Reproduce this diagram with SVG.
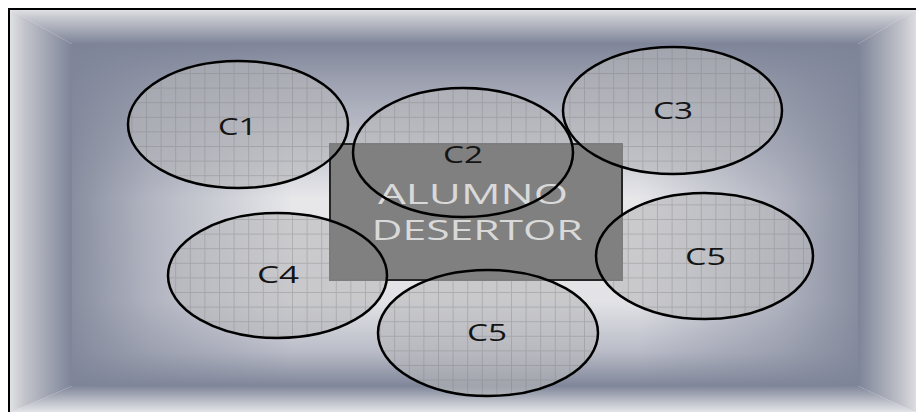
<svg xmlns="http://www.w3.org/2000/svg" width="916" height="412" viewBox="0 0 916 412">
<style>
.node-fill{fill:url(#grid);}
.outline{fill:none;stroke:#000;stroke-width:2.5;}
.label{font-family:"Open Sans","Liberation Sans",sans-serif;font-size:23px;fill:#141414;text-anchor:middle;}
.big{font-family:"Open Sans","Liberation Sans",sans-serif;font-size:27px;fill:#d9d9d9;text-anchor:middle;}
</style>
<defs>
<linearGradient id="gTop" gradientUnits="userSpaceOnUse" x1="0" y1="9" x2="0" y2="44">
<stop offset="0" stop-color="#e2e3e6"/><stop offset="0.25" stop-color="#c6c8cf"/><stop offset="1" stop-color="#7e8498"/>
</linearGradient>
<linearGradient id="gBot" gradientUnits="userSpaceOnUse" x1="0" y1="413" x2="0" y2="386">
<stop offset="0" stop-color="#e6e7ea"/><stop offset="0.3" stop-color="#caccd3"/><stop offset="1" stop-color="#80869a"/>
</linearGradient>
<linearGradient id="gLeft" gradientUnits="userSpaceOnUse" x1="9" y1="0" x2="72" y2="0">
<stop offset="0" stop-color="#e2e3e6"/><stop offset="0.25" stop-color="#c2c4cb"/><stop offset="1" stop-color="#7e8498"/>
</linearGradient>
<linearGradient id="gRight" gradientUnits="userSpaceOnUse" x1="917" y1="0" x2="858" y2="0">
<stop offset="0" stop-color="#dedfe3"/><stop offset="0.25" stop-color="#c2c4cb"/><stop offset="1" stop-color="#7e8498"/>
</linearGradient>
<linearGradient id="gInnerV" gradientUnits="userSpaceOnUse" x1="0" y1="44" x2="0" y2="386">
<stop offset="0" stop-color="#80869a"/><stop offset="0.12" stop-color="#9fa3b2"/><stop offset="0.3" stop-color="#c4c6cf"/><stop offset="0.45" stop-color="#e7e7ea"/><stop offset="0.75" stop-color="#e3e3e7"/><stop offset="0.9" stop-color="#b9bcc7"/><stop offset="1" stop-color="#80869a"/>
</linearGradient>
<linearGradient id="gInnerH" gradientUnits="userSpaceOnUse" x1="72" y1="0" x2="858" y2="0">
<stop offset="0" stop-color="#7e8498" stop-opacity="0.9"/><stop offset="0.1" stop-color="#7e8498" stop-opacity="0.5"/><stop offset="0.28" stop-color="#7e8498" stop-opacity="0"/><stop offset="0.72" stop-color="#7e8498" stop-opacity="0"/><stop offset="0.9" stop-color="#7e8498" stop-opacity="0.5"/><stop offset="1" stop-color="#7e8498" stop-opacity="0.9"/>
</linearGradient>
<pattern id="grid" patternUnits="userSpaceOnUse" width="14.6" height="14.6">
<rect width="14.6" height="14.6" fill="#b8b8ba" fill-opacity="0.6"/>
<path d="M0 0.5H14.6M0.5 0V14.6" stroke="#7a7a7a" stroke-opacity="0.35" stroke-width="1" fill="none"/>
</pattern>
<clipPath id="outsideRect">
<path clip-rule="evenodd" d="M0 0H916V412H0Z M331 145V279H621V145Z"/>
</clipPath>
</defs>

<g id="background">
<rect x="72" y="44" width="786" height="342" fill="url(#gInnerV)"/>
<rect x="72" y="44" width="786" height="342" fill="url(#gInnerH)"/>
<polygon points="9,9 917,9 858,44 72,44" fill="url(#gTop)"/>
<polygon points="9,413 917,413 858,386 72,386" fill="url(#gBot)"/>
<polygon points="9,9 72,44 72,386 9,413" fill="url(#gLeft)"/>
<polygon points="917,9 858,44 858,386 917,413" fill="url(#gRight)"/>
<rect x="9" y="9" width="910" height="406" fill="none" stroke="#000" stroke-width="2"/>
</g>

<g id="alumno-desertor">
<rect x="330" y="144" width="292" height="136" fill="#808080" stroke="#262626" stroke-width="2"/>
<text class="big" x="473" y="204" textLength="190" lengthAdjust="spacingAndGlyphs">ALUMNO</text>
<text class="big" x="477" y="240" textLength="211" lengthAdjust="spacingAndGlyphs">DESERTOR</text>
</g>

<g id="connectors"></g>

<g id="c1">
<ellipse class="node-fill" clip-path="url(#outsideRect)" cx="238" cy="124.5" rx="110" ry="63.5"/>
<ellipse class="outline" cx="238" cy="124.5" rx="110" ry="63.5"/>
<text class="label" x="237.5" y="135" textLength="39" lengthAdjust="spacingAndGlyphs">C1</text>
</g>
<g id="c2">
<ellipse class="node-fill" clip-path="url(#outsideRect)" cx="463" cy="152.5" rx="110" ry="64.5"/>
<ellipse class="outline" cx="463" cy="152.5" rx="110" ry="64.5"/>
<text class="label" x="463" y="163" textLength="40" lengthAdjust="spacingAndGlyphs">C2</text>
</g>
<g id="c3">
<ellipse class="node-fill" clip-path="url(#outsideRect)" cx="672.5" cy="110.5" rx="109.5" ry="63.5"/>
<ellipse class="outline" cx="672.5" cy="110.5" rx="109.5" ry="63.5"/>
<text class="label" x="673" y="119" textLength="40" lengthAdjust="spacingAndGlyphs">C3</text>
</g>
<g id="c4">
<ellipse class="node-fill" clip-path="url(#outsideRect)" cx="277.5" cy="275.5" rx="109.5" ry="62.5"/>
<ellipse class="outline" cx="277.5" cy="275.5" rx="109.5" ry="62.5"/>
<text class="label" x="278" y="283" textLength="42" lengthAdjust="spacingAndGlyphs">C4</text>
</g>
<g id="c5-right">
<ellipse class="node-fill" clip-path="url(#outsideRect)" cx="704.5" cy="256" rx="108.5" ry="63"/>
<ellipse class="outline" cx="704.5" cy="256" rx="108.5" ry="63"/>
<text class="label" x="705.5" y="265" textLength="41" lengthAdjust="spacingAndGlyphs">C5</text>
</g>
<g id="c5-bottom">
<ellipse class="node-fill" clip-path="url(#outsideRect)" cx="488" cy="333" rx="110" ry="63"/>
<ellipse class="outline" cx="488" cy="333" rx="110" ry="63"/>
<text class="label" x="487" y="341" textLength="40" lengthAdjust="spacingAndGlyphs">C5</text>
</g>
</svg>
